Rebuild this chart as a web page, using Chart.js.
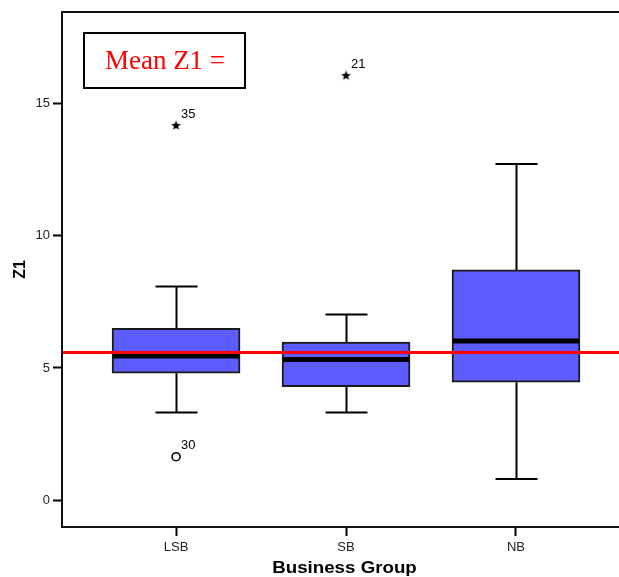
<!DOCTYPE html>
<html>
<head>
<meta charset="utf-8">
<script src="https://cdn.jsdelivr.net/npm/chart.js@4.4.1/dist/chart.umd.min.js"></script>
<style>
  html, body { margin: 0; padding: 0; background: #fff; overflow: hidden; }
  canvas { display: block; }
</style>
</head>
<body>
<canvas id="boxChart" width="619" height="577"></canvas>
<script>
// Z1 by business group
const groups = ['LSB', 'SB', 'NB'];
const groupPos = [1, 2, 3];
const whiskerLow = [3.31, 3.31, 0.80];
const q1 = [4.80, 4.29, 4.46];
const medians = [5.45, 5.32, 6.02];
const q3 = [6.50, 5.98, 8.71];
const whiskerHigh = [8.08, 7.02, 12.72];
const meanZ1 = 5.58;

// cases outside the whiskers
const outlierGroup = [1, 2, 1];
const outlierValue = [14.17, 16.06, 1.64];
const outlierCase = ['35', '21', '30'];
const outlierExtreme = [true, true, false];

const yTicks = [0, 5, 10, 15];

const FONT = 'Arial, "Liberation Sans", sans-serif';

// small filled star used for extreme cases
const starMark = document.createElement('canvas');
starMark.width = 11;
starMark.height = 11;
(function () {
    const c = starMark.getContext('2d');
    c.beginPath();
    for (let i = 0; i < 10; i++) {
        const r = i % 2 === 0 ? 5.2 : 2.2;
        const a = -Math.PI / 2 + i * Math.PI / 5;
        const px = 5.5 + r * Math.cos(a);
        const py = 5.5 + r * Math.sin(a);
        if (i === 0) c.moveTo(px, py); else c.lineTo(px, py);
    }
    c.closePath();
    c.fillStyle = '#000';
    c.fill();
})();

const extremePoints = [];
const outlierPoints = [];
outlierValue.forEach((v, i) => {
    const p = { x: outlierGroup[i], y: v, caseNo: outlierCase[i] };
    if (outlierExtreme[i]) extremePoints.push(p); else outlierPoints.push(p);
});

const boxExtras = {
    id: 'boxExtras',
    beforeDatasetsDraw(chart) {
        const { ctx } = chart;
        const xs = chart.scales.x, ys = chart.scales.y;
        ctx.save();
        ctx.strokeStyle = '#000';
        ctx.lineWidth = 2;
        groupPos.forEach((g, i) => {
            const cx = Math.round(xs.getPixelForValue(g)) + 0.5;
            [[q3[i], whiskerHigh[i]], [q1[i], whiskerLow[i]]].forEach(([from, to]) => {
                const y0 = ys.getPixelForValue(from);
                const y1 = ys.getPixelForValue(to);
                ctx.beginPath();
                ctx.moveTo(cx, y0);
                ctx.lineTo(cx, y1);
                ctx.moveTo(cx - 21, y1);
                ctx.lineTo(cx + 21, y1);
                ctx.stroke();
            });
        });
        ctx.restore();
    },
    afterDatasetsDraw(chart) {
        const { ctx, chartArea } = chart;
        const ys = chart.scales.y;
        const boxes = chart.getDatasetMeta(0).data;
        ctx.save();

        // medians
        ctx.strokeStyle = '#000';
        ctx.lineWidth = 5;
        boxes.forEach((bar, i) => {
            const y = ys.getPixelForValue(medians[i]);
            ctx.beginPath();
            ctx.moveTo(bar.x - bar.width / 2 + 1, y);
            ctx.lineTo(bar.x + bar.width / 2 - 1, y);
            ctx.stroke();
        });

        // overall mean
        const my = ys.getPixelForValue(meanZ1);
        ctx.strokeStyle = '#ff0000';
        ctx.lineWidth = 3;
        ctx.beginPath();
        ctx.moveTo(chartArea.left + 1, my);
        ctx.lineTo(chartArea.right, my);
        ctx.stroke();

        // top frame line
        ctx.strokeStyle = '#111';
        ctx.lineWidth = 2;
        ctx.beginPath();
        ctx.moveTo(chartArea.left - 1, chartArea.top);
        ctx.lineTo(chartArea.right, chartArea.top);
        ctx.stroke();

        // case numbers next to outliers
        ctx.fillStyle = '#000';
        ctx.font = '13px ' + FONT;
        ctx.textAlign = 'left';
        ctx.textBaseline = 'bottom';
        [1, 2].forEach(di => {
            const ds = chart.data.datasets[di];
            chart.getDatasetMeta(di).data.forEach((pt, j) => {
                ctx.fillText(ds.data[j].caseNo, pt.x + 5, pt.y - 5);
            });
        });

        // mean legend box
        ctx.strokeStyle = '#000';
        ctx.lineWidth = 2;
        ctx.strokeRect(84, 33, 161, 55);
        ctx.fillStyle = '#ff0000';
        ctx.font = '27px "Liberation Serif", "Times New Roman", serif';
        ctx.textAlign = 'center';
        ctx.textBaseline = 'middle';
        ctx.fillText('Mean Z1 =', 165, 62);

        // x axis title, set a little wide
        ctx.fillStyle = '#000';
        ctx.font = 'bold 16px ' + FONT;
        ctx.textAlign = 'center';
        ctx.textBaseline = 'alphabetic';
        ctx.translate(344.5, 573);
        ctx.scale(1.17, 1);
        ctx.fillText('Business Group', 0, 0);

        ctx.restore();
    }
};

new Chart(document.getElementById('boxChart'), {
    type: 'bar',
    data: {
        datasets: [
            {
                label: 'Z1',
                data: groupPos.map((g, i) => ({ x: g, y: [q1[i], q3[i]] })),
                backgroundColor: '#5c5cff',
                borderColor: '#1a1a1a',
                borderWidth: 2,
                borderSkipped: false,
                barThickness: 128
            },
            {
                type: 'scatter',
                label: 'extreme',
                data: extremePoints,
                pointStyle: starMark,
                pointRadius: 5
            },
            {
                type: 'scatter',
                label: 'outlier',
                data: outlierPoints,
                pointStyle: 'circle',
                pointRadius: 4,
                backgroundColor: '#fff',
                borderColor: '#000',
                borderWidth: 1.6
            }
        ]
    },
    options: {
        responsive: false,
        animation: false,
        events: [],
        layout: { autoPadding: false, padding: { top: 12, left: 0, right: 0, bottom: 0 } },
        plugins: { legend: { display: false }, tooltip: { enabled: false } },
        scales: {
            x: {
                type: 'linear',
                min: 0.329,
                max: 3.606,
                offset: false,
                afterBuildTicks: s => { s.ticks = groupPos.map(v => ({ value: v })); },
                afterFit: s => {
                    s.height = 50;
                    s.paddingLeft = 0;
                    s.paddingRight = 0;
                },
                ticks: {
                    callback: v => groups[groupPos.indexOf(v)] || '',
                    color: '#222',
                    font: { family: FONT, size: 13 },
                    padding: 4,
                    maxRotation: 0,
                    autoSkip: false
                },
                grid: {
                    drawOnChartArea: false,
                    drawTicks: true,
                    tickLength: 9,
                    tickWidth: 2,
                    tickColor: '#000',
                    offset: false
                },
                border: { display: true, color: '#111', width: 2 },
                title: { display: false }
            },
            y: {
                min: -1.02,
                max: 18.47,
                afterBuildTicks: s => { s.ticks = yTicks.map(v => ({ value: v })); },
                afterFit: s => {
                    s.width = 62;
                    s.paddingTop = 0;
                    s.paddingBottom = 0;
                },
                ticks: {
                    color: '#222',
                    font: { family: FONT, size: 13 },
                    padding: 3
                },
                grid: {
                    drawOnChartArea: false,
                    drawTicks: true,
                    tickLength: 9,
                    tickWidth: 2,
                    tickColor: '#000'
                },
                border: { display: true, color: '#111', width: 2 },
                title: {
                    display: true,
                    text: 'Z1',
                    color: '#000',
                    font: { family: FONT, size: 16, weight: 'bold' },
                    padding: { top: 11, bottom: 0 }
                }
            }
        }
    },
    plugins: [boxExtras]
});
</script>
</body>
</html>
